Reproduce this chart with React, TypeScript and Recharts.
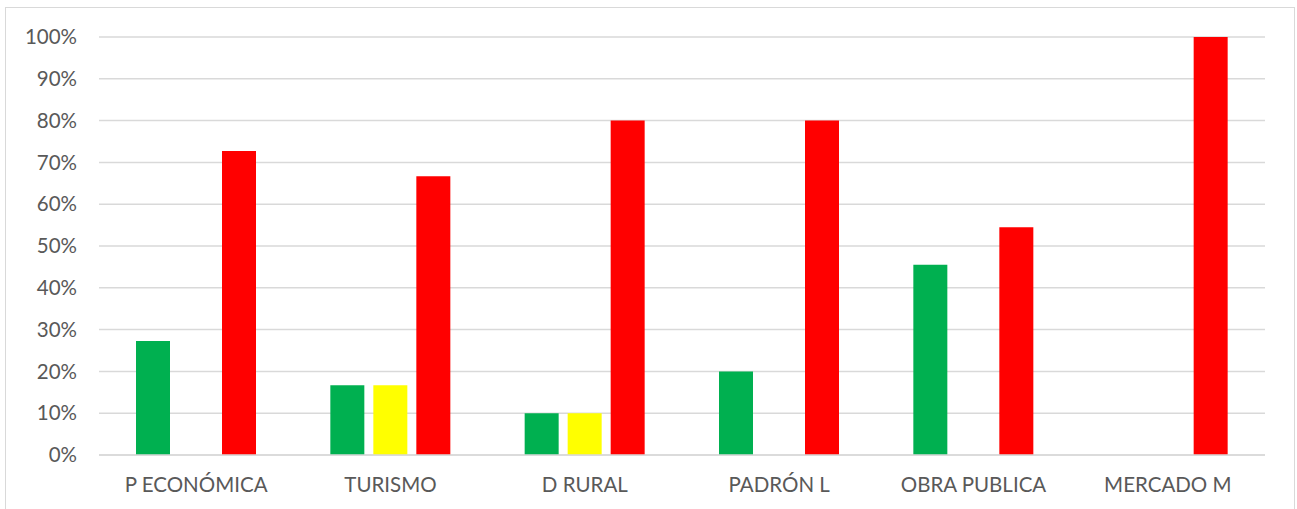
import { BarChart, Bar, XAxis, YAxis, CartesianGrid } from "recharts";

const CATEGORIES = [
  "P ECONÓMICA",
  "TURISMO",
  "D RURAL",
  "PADRÓN L",
  "OBRA PUBLICA",
  "MERCADO M",
];
const GREEN_VALUES = [0.273, 0.167, 0.1, 0.2, 0.455, 0];
const YELLOW_VALUES = [0, 0.167, 0.1, 0, 0, 0];
const RED_VALUES = [0.727, 0.667, 0.8, 0.8, 0.545, 1];
const Y_TICKS = [0, 0.1, 0.2, 0.3, 0.4, 0.5, 0.6, 0.7, 0.8, 0.9, 1];

const data = CATEGORIES.map((name, i) => ({
  name,
  green: GREEN_VALUES[i],
  yellow: YELLOW_VALUES[i],
  red: RED_VALUES[i],
}));

const FONT = "Lato, 'Open Sans', sans-serif";
const TICK = { fill: "#595959", fontSize: 20.5, fontFamily: FONT };

export default function App() {
  return (
    <div
      style={{
        position: "absolute",
        left: 0,
        top: 0,
        width: 1297,
        height: 509,
        background: "#fff",
        overflow: "hidden",
      }}
    >
      <div
        style={{
          position: "absolute",
          left: 5,
          top: 7,
          width: 1288,
          height: 520,
          border: "1px solid #d9d9d9",
        }}
      />
      <BarChart
        width={1297}
        height={509}
        data={data}
        margin={{ top: 37, right: 32, bottom: 0, left: 0 }}
        barSize={34}
        barGap={9}
        style={{ position: "absolute", left: 0, top: 0 }}
      >
        <CartesianGrid vertical={false} stroke="#d9d9d9" strokeWidth={1.5} />
        <XAxis
          dataKey="name"
          height={54}
          tickLine={false}
          tickSize={0}
          tickMargin={22}
          axisLine={{ stroke: "#d9d9d9", strokeWidth: 1.5 }}
          tick={TICK}
          interval={0}
        />
        <YAxis
          width={99}
          domain={[0, 1]}
          ticks={Y_TICKS}
          tickFormatter={(v) => `${Math.round(v * 100)}%`}
          tickLine={false}
          tickSize={0}
          tickMargin={22}
          axisLine={false}
          tick={TICK}
        />
        <Bar dataKey="green" fill="#00b050" isAnimationActive={false} />
        <Bar dataKey="yellow" fill="#ffff00" isAnimationActive={false} />
        <Bar dataKey="red" fill="#ff0000" isAnimationActive={false} />
      </BarChart>
    </div>
  );
}
